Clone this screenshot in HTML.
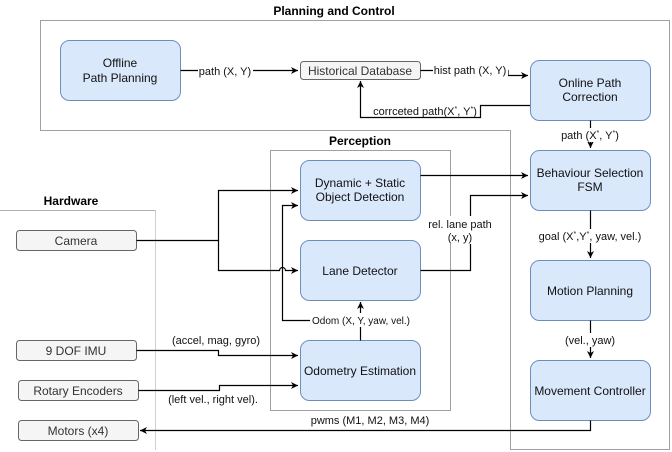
<!DOCTYPE html>
<html><head><meta charset="utf-8"><style>
html,body{margin:0;padding:0;background:#fff;}
svg{display:block;font-family:"Liberation Sans",Arial,sans-serif;}
</style></head><body>
<svg width="672" height="452" viewBox="0 0 672 452" xmlns="http://www.w3.org/2000/svg">
<defs>
<marker id="a" markerWidth="8" markerHeight="8" refX="7" refY="4" orient="auto" markerUnits="userSpaceOnUse">
<path d="M0,0.5 L7,4 L0,7.5 L2,4 Z" fill="#000"/></marker>
</defs>
<path d="M40.5,20.5 H669.5 V449.5 H510.5 V130.5 H40.5 Z" fill="none" stroke="#a0a0a0"/>
<rect x="270.5" y="150.5" width="180" height="260" fill="none" stroke="#a0a0a0"/>
<path d="M0,210.5 H155.5" fill="none" stroke="#b0b0b0"/>
<path d="M155.5,210.5 V450" fill="none" stroke="#a0a0a0" stroke-dasharray="1,1"/>
<g font-weight="bold" font-size="12" text-anchor="middle">
<text x="334" y="15">Planning and Control</text>
<text x="360" y="145">Perception</text>
<text x="71" y="205">Hardware</text>
</g>
<g fill="#dae8fc" stroke="#6c8ebf">
<rect x="60.5" y="40.5" width="120" height="60" rx="9"/>
<rect x="530.5" y="60.5" width="120" height="60" rx="9"/>
<rect x="530.5" y="150.5" width="120" height="60" rx="9"/>
<rect x="530.5" y="260.5" width="120" height="60" rx="9"/>
<rect x="530.5" y="360.5" width="120" height="60" rx="9"/>
<rect x="300.5" y="160.5" width="120" height="60" rx="9"/>
<rect x="300.5" y="240.5" width="120" height="60" rx="9"/>
<rect x="300.5" y="340.5" width="120" height="60" rx="9"/>
</g>
<g fill="#f5f5f5" stroke="#666">
<rect x="300.5" y="61.5" width="120" height="18" rx="3"/>
<rect x="16.5" y="230.5" width="120" height="20" rx="3"/>
<rect x="16.5" y="340.5" width="120" height="20" rx="3"/>
<rect x="18.5" y="380.5" width="120" height="20" rx="3"/>
<rect x="18.5" y="420.5" width="120" height="20" rx="3"/>
</g>
<g font-size="12" text-anchor="middle" fill="#111">
<text x="120" y="67">Offline</text><text x="120" y="82">Path Planning</text>
<text x="360" y="75" fill="#333">Historical Database</text>
<text x="590" y="87">Online Path</text><text x="590" y="101">Correction</text>
<text x="590" y="177">Behaviour Selection</text><text x="590" y="191">FSM</text>
<text x="590" y="295">Motion Planning</text>
<text x="590" y="395">Movement Controller</text>
<text x="360" y="187">Dynamic + Static</text><text x="360" y="201">Object Detection</text>
<text x="360" y="275">Lane Detector</text>
<text x="360" y="375">Odometry Estimation</text>
<text x="76" y="245" fill="#333">Camera</text>
<text x="76" y="355" fill="#333">9 DOF IMU</text>
<text x="78" y="395" fill="#333">Rotary Encoders</text>
<text x="78" y="435" fill="#333">Motors (x4)</text>
</g>
<g fill="none" stroke="#000" stroke-width="1.2">
<path d="M180.5,70.5 H298" marker-end="url(#a)"/>
<path d="M420.5,70.5 H508 V75.5 H528" marker-end="url(#a)"/>
<path d="M530,105.5 H480.5 V117.5 H360.5 V81" marker-end="url(#a)"/>
<path d="M590.5,120.5 V148" marker-end="url(#a)"/>
<path d="M590.5,210.5 V258" marker-end="url(#a)"/>
<path d="M590.5,320.5 V358" marker-end="url(#a)"/>
<path d="M590.5,420.5 V430.5 H140" marker-end="url(#a)"/>
<path d="M136.5,240.5 H218.5 V190.5 H298" marker-end="url(#a)"/>
<path d="M218.5,240.5 V270.5 H279.5 A3,3 0 0 1 285.5,270.5 H298" marker-end="url(#a)"/>
<path d="M360.5,340.5 V302" marker-end="url(#a)"/>
<path d="M310,320.5 H282.5 V205.5 H298" marker-end="url(#a)"/>
<path d="M136.5,350.5 H218.5 V355.5 H298" marker-end="url(#a)"/>
<path d="M138.5,390.5 H219.5 V385.5 H298" marker-end="url(#a)"/>
<path d="M420.5,175.5 H528" marker-end="url(#a)"/>
<path d="M420.5,270.5 H470.5 V195.5 H528" marker-end="url(#a)"/>
</g>
<g font-size="11" text-anchor="middle" fill="#111">
<rect x="198" y="63" width="55" height="14" fill="#fff"/>
<text x="225" y="75">path (X, Y)</text>
<rect x="433" y="63" width="75" height="14" fill="#fff"/>
<text x="470" y="74">hist path (X, Y)</text>
<rect x="372" y="101" width="106" height="15" fill="#fff"/>
<text x="425" y="115">corrceted path(X<tspan font-size="7" dy="-4">*</tspan><tspan dy="4">, Y</tspan><tspan font-size="7" dy="-4">*</tspan><tspan dy="4">)</tspan></text>
<rect x="558" y="128" width="64" height="14" fill="#fff"/>
<text x="590" y="139">path (X<tspan font-size="7" dy="-4">*</tspan><tspan dy="4">, Y</tspan><tspan font-size="7" dy="-4">*</tspan><tspan dy="4">)</tspan></text>
<rect x="535" y="229" width="112" height="14" fill="#fff"/>
<text x="590" y="240">goal (X<tspan font-size="7" dy="-4">*</tspan><tspan dy="4">,Y</tspan><tspan font-size="7" dy="-4">*</tspan><tspan dy="4">, yaw, vel.)</tspan></text>
<rect x="563" y="333" width="54" height="14" fill="#fff"/>
<text x="590" y="344">(vel., yaw)</text>
<text x="370" y="424">pwms (M1, M2, M3, M4)</text>
<rect x="425" y="216" width="68" height="28" fill="#fff"/>
<text x="460" y="228">rel. lane path</text>
<text x="460" y="241">(x, y)</text>
<rect x="311" y="313" width="100" height="14" fill="#fff"/>
<text x="361" y="324" font-size="10">Odom (X, Y, yaw, vel.)</text>
<text x="216" y="344">(accel, mag, gyro)</text>
<text x="213" y="403">(left vel., right vel).</text>
</g>
</svg>
</body></html>
